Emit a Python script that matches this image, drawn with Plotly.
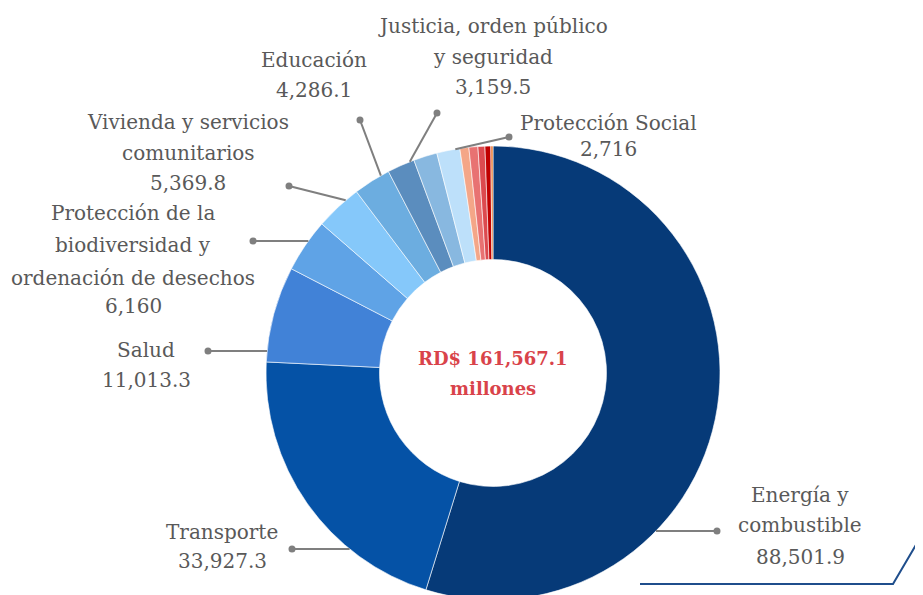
import math
import plotly.graph_objects as go

# ---------------- data ----------------
categories = [
    "Energía y combustible",
    "Transporte",
    "Salud",
    "Protección de la biodiversidad y ordenación de desechos",
    "Vivienda y servicios comunitarios",
    "Educación",
    "Justicia, orden público y seguridad",
    "Protección Social",
    "Actividades deportivas, recreativas, culturales y religiosas",
    "Agropecuaria, caza, pesca y silvicultura",
    "Riego",
    "Comunicaciones",
    "Minería, manufactura y construcción",
    "Otros servicios",
]
values = [88501.9, 33927.3, 11013.3, 6160.0, 5369.8, 4286.1, 3159.5, 2716.0,
          2660.0, 1030.0, 1030.0, 800.0, 670.0, 243.2]
colors = ["#063A78", "#0552A6", "#4182D7", "#5FA3E6", "#85C8FA", "#6CADE0",
          "#5B8DBE", "#88B8E0", "#BDE0FA", "#F4A688", "#E87272", "#DC4A4F",
          "#C00000", "#E8742A"]

# label text lines for labelled slices (value line appended automatically)
label_lines = {
    "Energía y combustible": ["Energía y", "combustible"],
    "Transporte": ["Transporte"],
    "Salud": ["Salud"],
    "Protección de la biodiversidad y ordenación de desechos":
        ["Protección de la", "biodiversidad y", "ordenación de desechos"],
    "Vivienda y servicios comunitarios": ["Vivienda y servicios", "comunitarios"],
    "Educación": ["Educación"],
    "Justicia, orden público y seguridad": ["Justicia, orden público", "y seguridad"],
    "Protección Social": ["Protección Social"],
}

# ---------------- layout geometry (screen pixels) ----------------
W, H = 915, 595
OFF = 8                      # page body margin offset
CX, CY, R = 493, 373, 227    # donut centre / radius on screen

label_layout = {
    "Energía y combustible": dict(tx=800, ys=[495, 525, 557], dot=(717, 531), mode="h"),
    "Transporte": dict(tx=222, ys=[532, 561], dot=(292, 549), mode="h"),
    "Salud": dict(tx=146, ys=[350, 380], dot=(208, 351), mode="h"),
    "Protección de la biodiversidad y ordenación de desechos":
        dict(tx=133, ys=[213, 245, 278, 306], dot=(253, 241), mode="h"),
    "Vivienda y servicios comunitarios": dict(tx=188, ys=[122, 153, 183], dot=(289, 186), mode="a", nudge=2.5),
    "Educación": dict(tx=314, ys=[60, 90], dot=(360, 120), mode="a", nudge=2.6),
    "Justicia, orden público y seguridad": dict(tx=493, ys=[26, 57, 87], dot=(437, 113), mode="a", nudge=2.4),
    "Protección Social": dict(tx=608, ys=[123, 149], dot=(509, 137), mode="a", nudge=7.8),
}

FONT = "DejaVu Serif"
TXT_COL = "#595959"
LEAD_COL = "#7F7F7F"


def P(x, y):
    return (x - OFF) / W, 1 - (y - OFF) / H


def fmt(v):
    s = f"{v:,.1f}"
    return s[:-2] if s.endswith(".0") else s


total = sum(values)

fig = go.Figure(go.Pie(
    labels=categories, values=values, sort=False, direction="clockwise", rotation=0,
    hole=0.5, textinfo="none", showlegend=False,
    marker=dict(colors=colors, line=dict(color="white", width=0.6)),
    domain=dict(x=[(CX - R - OFF) / W, (CX + R - OFF) / W],
                y=[1 - (CY + R - OFF) / H, 1 - (CY - R - OFF) / H]),
))

annotations = []
shapes = []

# slice angles from data
cum = 0.0
angles = {}
for c, v in zip(categories, values):
    a0 = cum / total * 360
    cum += v
    a1 = cum / total * 360
    angles[c] = (a0, a1)

for c, lines in label_lines.items():
    lay = label_layout[c]
    v = values[categories.index(c)]
    all_lines = lines + [fmt(v)]
    for txt, y in zip(all_lines, lay["ys"]):
        x_p, y_p = P(lay["tx"], y)
        annotations.append(dict(x=x_p, y=y_p, xref="paper", yref="paper", text=txt,
                                showarrow=False, xanchor="center", yanchor="middle",
                                font=dict(family=FONT, size=20, color=TXT_COL)))
    dx, dy = lay["dot"]
    if lay["mode"] == "h":
        off = math.sqrt(max(R ** 2 - (dy - CY) ** 2, 0))
        ex = CX + off if dx > CX else CX - off
        ey = dy
    else:
        a0, a1 = angles[c]
        th = math.radians((a0 + a1) / 2 + lay.get("nudge", 0))
        ex = CX + R * math.sin(th)
        ey = CY - R * math.cos(th)
    x0, y0 = P(ex, ey)
    x1, y1 = P(dx, dy)
    shapes.append(dict(type="line", xref="paper", yref="paper", x0=x0, y0=y0, x1=x1, y1=y1,
                       line=dict(color=LEAD_COL, width=2)))
    shapes.append(dict(type="circle", xref="paper", yref="paper", xsizemode="pixel",
                       ysizemode="pixel", xanchor=x1, yanchor=y1, x0=-3.5, x1=3.5, y0=-3.5, y1=3.5,
                       fillcolor=LEAD_COL, line=dict(color=LEAD_COL, width=0)))

# centre total
cxp, cyp = P(CX, CY)
annotations.append(dict(x=cxp, y=cyp, xref="paper", yref="paper", yshift=15,
                        text=f"<b>RD$ {total:,.1f}</b>", showarrow=False,
                        font=dict(family=FONT, size=18, color="#D9434A")))
annotations.append(dict(x=cxp, y=cyp, xref="paper", yref="paper", yshift=-15,
                        text="<b>millones</b>", showarrow=False,
                        font=dict(family=FONT, size=18, color="#D9434A")))

# decorative navy line bottom-right
ax, ay = P(640, 584)
bx, by = P(893, 584)
dxp, dyp = P(920, 538)
shapes.append(dict(type="path", xref="paper", yref="paper",
                   path=f"M {ax} {ay} L {bx} {by} L {dxp} {dyp}",
                   line=dict(color="#1F4E8C", width=2)))
shapes.append(dict(type="circle", xref="paper", yref="paper", xsizemode="pixel",
                   ysizemode="pixel", xanchor=dxp, yanchor=dyp, x0=-3.5, x1=3.5, y0=-3.5, y1=3.5,
                   fillcolor="#1F4E8C", line=dict(width=0)))

fig.update_layout(width=W, height=H, margin=dict(l=0, r=0, t=0, b=0),
                  paper_bgcolor="white", plot_bgcolor="white",
                  annotations=annotations, shapes=shapes)

fig.write_html("out.html")
